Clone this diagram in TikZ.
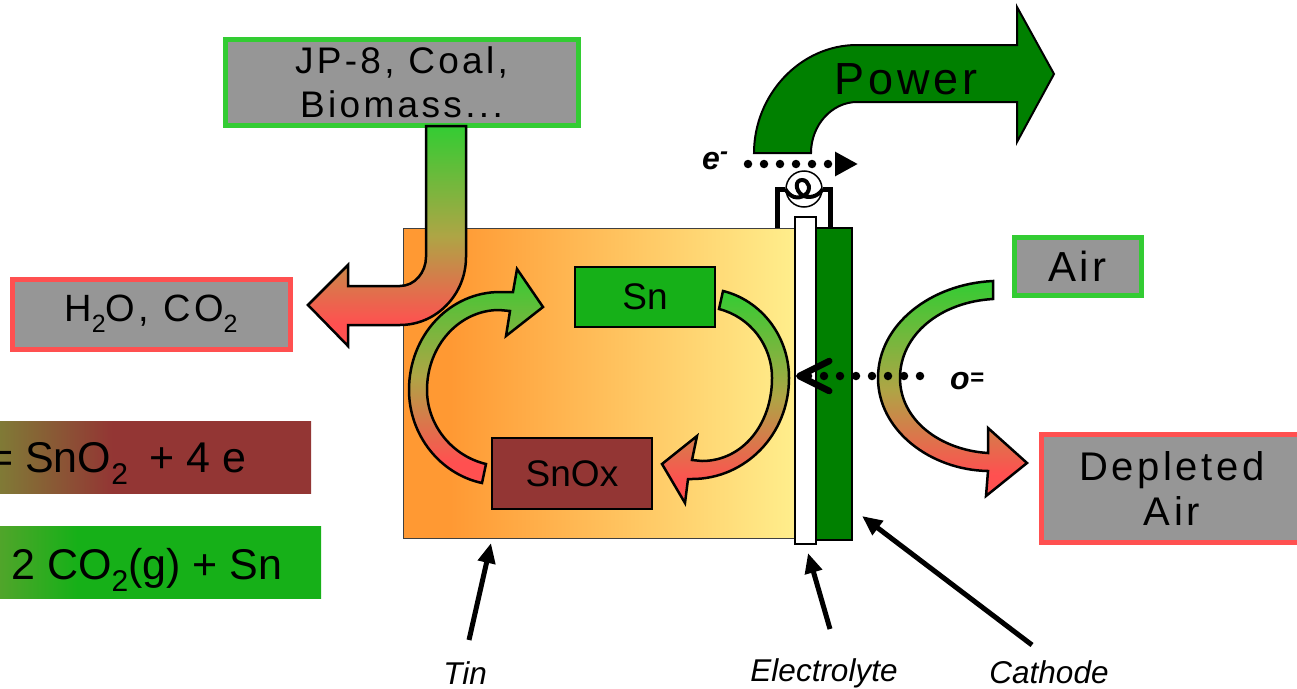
\documentclass[tikz,border=0pt]{standalone}
\usepackage{fontspec}
\usepackage{xcolor}
\usetikzlibrary{positioning,arrows.meta,calc}
\setmainfont{Liberation Sans}
\newfontfamily\widefont[LetterSpace=9]{Liberation Sans}
\newcommand{\subtwo}[1]{\raisebox{-0.3em}{\fontsize{#1}{#1}\selectfont 2}}
\definecolor{lime}{HTML}{33CC33}
\definecolor{coral}{HTML}{FF5050}
\definecolor{midflow}{HTML}{AEA545}
\definecolor{ash}{HTML}{969696}
\definecolor{tinG}{HTML}{16B018}
\definecolor{oxR}{HTML}{933634}
\definecolor{oxL}{HTML}{807A36}
\definecolor{snL}{HTML}{50A52A}
\definecolor{leaf}{HTML}{008000}
\definecolor{tinL}{HTML}{FF9933}
\definecolor{tinR}{HTML}{FFEE8C}
% only the middle 25bp-75bp of a shading lands on the path
\pgfdeclarehorizontalshading{tinshade}{100bp}{color(0bp)=(tinL); color(31bp)=(tinL); color(75bp)=(tinR); color(100bp)=(tinR)}
\pgfdeclarehorizontalshading{oxshade}{100bp}{color(0bp)=(oxL); color(25bp)=(oxL); color(43bp)=(oxR); color(100bp)=(oxR)}
\pgfdeclarehorizontalshading{snshade}{100bp}{color(0bp)=(snL); color(25bp)=(snL); color(37bp)=(tinG); color(100bp)=(tinG)}
\pgfdeclareverticalshading{flowshade}{100bp}{color(0bp)=(coral); color(30bp)=(coral); color(50bp)=(midflow); color(75bp)=(lime); color(100bp)=(lime)}

\begin{document}
\begin{tikzpicture}[
  x=1pt,y=-1pt,
  font=\fontsize{36}{45}\selectfont,
  feed/.style={draw=lime,line width=5pt,fill=ash,align=center,inner sep=0pt,font=\fontsize{#1}{45}\selectfont\widefont},
  feed/.default=37,
  waste/.style={feed=#1,draw=coral},
  waste/.default=40,
  solid box/.style={draw=black,line width=1.5pt,inner sep=0pt,font=\fontsize{37}{40}\selectfont},
  strip/.style={inner sep=0pt,outer sep=0pt,anchor=north west},
  eqn/.style={anchor=base west,inner sep=0pt,font=\fontsize{43}{48}\selectfont},
  flow/.style={draw=black,line width=2.5pt,line join=miter,shading=flowshade},
  dots/.style={line width=8.5pt,line cap=round,dash pattern=on 0pt off 16pt},
  ptr/.style={line width=5pt,-{Triangle[length=20pt,width=17pt]}},
  part/.style={inner sep=0pt,font=\fontsize{31.5}{38}\selectfont\itshape},
  charge/.style={inner sep=0pt,anchor=base west,font=\fontsize{32}{38}\selectfont\bfseries\itshape},
]
  \useasboundingbox (0,0) rectangle (1297,688);

  % cell
  \node[draw=black!75,line width=1pt,shading=tinshade,minimum width=392pt,minimum height=310pt,inner sep=0pt] (tin) at (599,383) {};
  \node[draw=black,line width=2.5pt,fill=white,minimum width=21pt,minimum height=327pt,inner sep=0pt] (electrolyte) at (805.5,380.5) {};
  \node[draw=black,line width=2.5pt,fill=leaf,minimum width=36pt,minimum height=312pt,inner sep=0pt] (cathode) at (834,384) {};

  % feed and product boxes
  \node[feed,minimum width=353pt,minimum height=86pt] (fuel) at (401.5,82) {JP-8, Coal,\\[-1pt]Biomass...};
  \node[waste=38,minimum width=278pt,minimum height=70pt] (exhaust) at (151,314) {H\subtwo{25}O, CO\subtwo{25}};
  \node[feed=42,minimum width=127pt,minimum height=58pt] (air) at (1077.5,266) {Air};
  \node[waste,minimum width=262pt,minimum height=108pt] (depleted) at (1172,488) {Depleted\\Air};

  % reaction strips
  \node[strip,shading=oxshade,minimum width=311pt,minimum height=72pt] (oxstrip) at (0,421) {};
  \node[eqn] (oxtext) at (-12,472) {= SnO\subtwo{30}\hspace{10pt} + 4 e};
  \node[strip,shading=snshade,minimum width=321pt,minimum height=72pt] (snstrip) at (0,526) {};
  \node[eqn] (sntext) at (11,579) {2 CO\subtwo{30}(g) + Sn};

  % tin phases
  \node[solid box,fill=tinG,minimum width=140pt,minimum height=60pt] (sn) at (645,297) {Sn};
  \node[solid box,fill=oxR,minimum width=160pt,minimum height=71pt] (snox) at (572,473.5) {SnOx};

  % block arrows
  \path[flow] (426,126) -- (466,126) -- (466,257) .. controls (466,295) and (436,325) .. (400,325) -- (348,325) -- (348,346) -- (308,305) -- (348,265) -- (348,286) -- (400,286) .. controls (415,286) and (426,272) .. (426,257) -- cycle;
  \path[flow] (482,483) .. controls (440,474) and (409,435) .. (409,390) .. controls (409,335) and (450,292) .. (500,292) -- (513,292) -- (517,269) -- (543,307) -- (506,336) -- (510,311) -- (499,310) .. controls (460,310) and (427,345) .. (427,390) .. controls (427,425) and (452,456) .. (486,464) -- cycle;
  \path[flow] (723,291) .. controls (760,300) and (789,335) .. (789,378) .. controls (789,435) and (745,479) .. (692,479) -- (688,479) -- (685,503) -- (662,464) -- (697,436) -- (692,460) -- (702,461) .. controls (742,461) and (772,425) .. (772,378) .. controls (772,345) and (750,317) .. (719,309) -- cycle;
  \path[flow] (993,281) .. controls (930,284) and (878,325) .. (878,378) .. controls (878,430) and (930,470) .. (988,471) -- (986,496) -- (1027,463) -- (988,428) -- (988,453) .. controls (940,450) and (900,420) .. (900,378) .. controls (900,335) and (940,302) .. (993,299) -- cycle;
  \draw[line width=2pt,fill=leaf] (754,153) .. controls (754,95) and (800,45) .. (857,45) -- (1017,45) -- (1017,7) -- (1054,74) -- (1017,142) -- (1017,102) -- (857,102) .. controls (832,102) and (811,125) .. (811,153) -- cycle;
  \node[inner sep=0pt,anchor=base west,font=\fontsize{45}{50}\selectfont\widefont] (power) at (834,94) {Power};

  % external circuit
  \coordinate (wireL) at (777,228);
  \coordinate (wireR) at (830,228);
  \node[circle,draw=black,line width=1.5pt,minimum size=36pt,inner sep=0pt] (meter) at (804,189) {};
  \draw[line width=5pt] (wireL) |- (meter.west);
  \draw[line width=5pt] (wireR) |- (meter.east);
  \draw[line width=4pt] (meter.west) .. controls (790,197) and (797,200) .. (805,195) .. controls (812,190) and (809,180) .. (802,180) .. controls (795,180) and (795,190) .. (802,195) .. controls (808,199) and (818,197) .. (meter.east);

  % charge carriers
  \node[charge] (electron) at (702,169) {e\raisebox{0.3em}{\fontsize{24}{24}\selectfont -}};
  \coordinate (eStart) at (748,164);
  \coordinate (eEnd) at (858,164);
  \draw[dots,-{Triangle[length=23pt,width=23pt]}] (eStart) -- (eEnd);
  \node[charge] (oxygen) at (950,389) {o\raisebox{0.1em}{\fontsize{24}{24}\selectfont =}};
  \coordinate (oStart) at (920,376);
  \coordinate (oEnd) at (796,376);
  \draw[dots,-{Straight Barb[length=30pt,width=30pt,line width=6.5pt,round]}] (oStart) -- (oEnd);

  % part labels
  \node[part] (tinlabel) at (465,673) {Tin};
  \node[part] (electrolytelabel) at (824,673) {Electrolyte};
  \node[part] (cathodelabel) at (1049,672) {Cathode};
  \coordinate (tinTail) at (469,640);
  \coordinate (tinTip) at (491,543);
  \coordinate (elTail) at (830,629);
  \coordinate (elTip) at (808,553);
  \coordinate (caTail) at (1032,645);
  \coordinate (caTip) at (862,516);
  \draw[ptr] (tinTail) -- (tinTip);
  \draw[ptr] (elTail) -- (elTip);
  \draw[ptr] (caTail) -- (caTip);
\end{tikzpicture}
\end{document}
